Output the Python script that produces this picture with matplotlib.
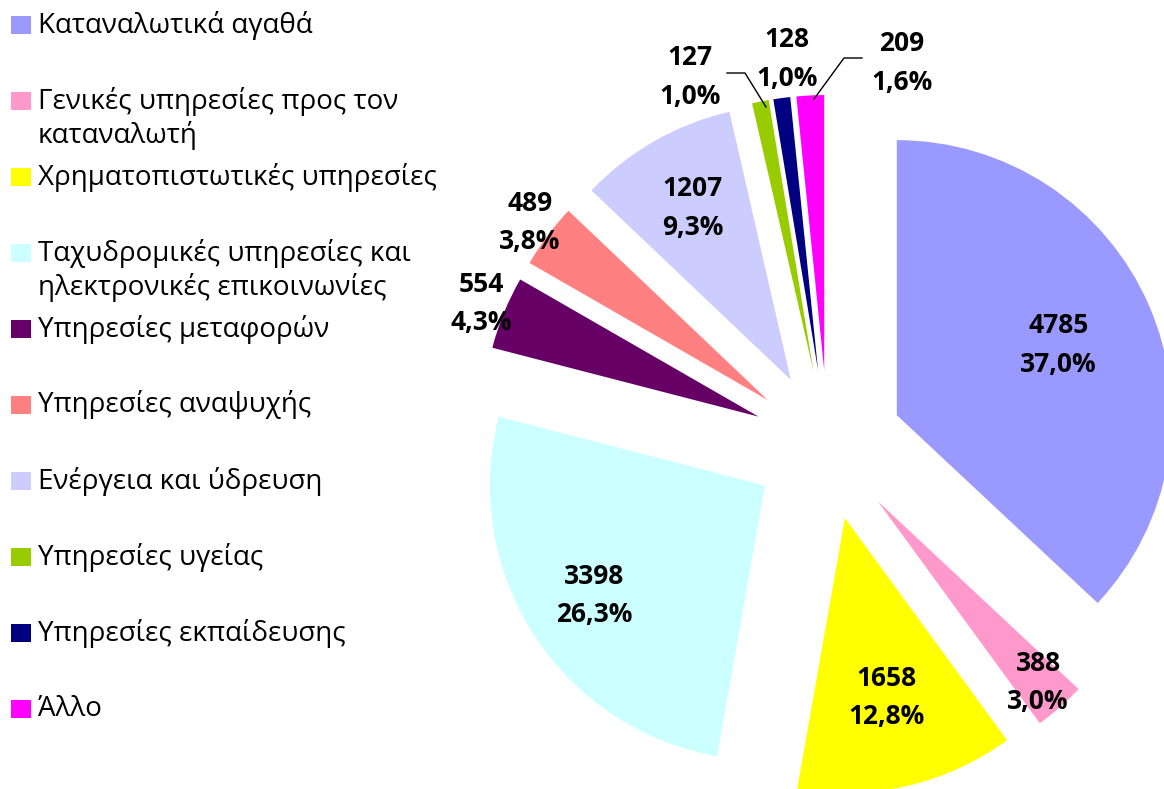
import matplotlib
matplotlib.use("Agg")
import matplotlib.pyplot as plt
from matplotlib.patches import Rectangle
import numpy as np

categories = ["Καταναλωτικά αγαθά",
              "Γενικές υπηρεσίες προς τον\nκαταναλωτή",
              "Χρηματοπιστωτικές υπηρεσίες",
              "Ταχυδρομικές υπηρεσίες και\nηλεκτρονικές επικοινωνίες",
              "Υπηρεσίες μεταφορών",
              "Υπηρεσίες αναψυχής",
              "Ενέργεια και ύδρευση",
              "Υπηρεσίες υγείας",
              "Υπηρεσίες εκπαίδευσης",
              "Άλλο"]
values = [4785, 388, 1658, 3398, 554, 489, 1207, 127, 128, 209]
colors = ["#9999FF", "#FF99CC", "#FFFF00", "#CCFFFF", "#660066",
          "#FF8080", "#CCCCFF", "#99CC00", "#000080", "#FF00FF"]

# label placement (fraction of radius from exploded wedge apex); None = manual
label_dist = [0.64, 0.88, 0.67, 0.74, 1.09, 1.08, 0.72, None, None, None]
manual_text = {7: (690, 77), 8: (787, 59), 9: (902, 63)}      # image px
leaders = {7: [(727, 73), (745, 73), (766, 107)],
           9: [(862, 58), (844, 58), (814, 99)]}

W, H = 1164, 789
fig = plt.figure(figsize=(W / 100, H / 100), dpi=100)
ax = fig.add_axes([0, 0, 1, 1])

total = sum(values)
wedges, _ = ax.pie(values, colors=colors, startangle=90, counterclock=False,
                   explode=[75] * len(values), radius=275, center=(828, H - 445),
                   wedgeprops=dict(linewidth=0))
ax.set_xlim(0, W)
ax.set_ylim(0, H)
ax.set_aspect("equal")
ax.axis("off")

lab_font = dict(family=["Open Sans", "DejaVu Sans"], fontsize=19, fontweight="bold",
                color="black", ha="center", va="center", linespacing=1.55)

for i, w in enumerate(wedges):
    pct = values[i] / total * 100
    txt = f"{values[i]}\n{pct:.1f}%".replace(".", ",")
    if label_dist[i] is not None:
        th = np.deg2rad((w.theta1 + w.theta2) / 2)
        cx, cy = w.center
        x = cx + label_dist[i] * w.r * np.cos(th)
        y = cy + label_dist[i] * w.r * np.sin(th)
        ax.text(x, y, txt, **lab_font)
    else:
        px, py = manual_text[i]
        ax.text(px, H - py, txt, **lab_font)
    if i in leaders:
        xs = [p[0] for p in leaders[i]]
        ys = [H - p[1] for p in leaders[i]]
        ax.plot(xs, ys, color="black", lw=1)

# legend (manual, marker aligned with first line)
for i, (lab, c) in enumerate(zip(categories, colors)):
    y0 = 25 + 76 * i
    fig.patches.append(Rectangle((11 / W, 1 - (y0 + 9) / H), 20 / W, 18 / H,
                                 transform=fig.transFigure, facecolor=c,
                                 edgecolor="none"))
    for j, line in enumerate(lab.split("\n")):
        fig.text(38 / W, 1 - (y0 + 35 * j) / H, line,
                 family=["Open Sans", "DejaVu Sans"], fontsize=20,
                 color="black", ha="left", va="center")

fig.savefig("out.png", dpi=100)
